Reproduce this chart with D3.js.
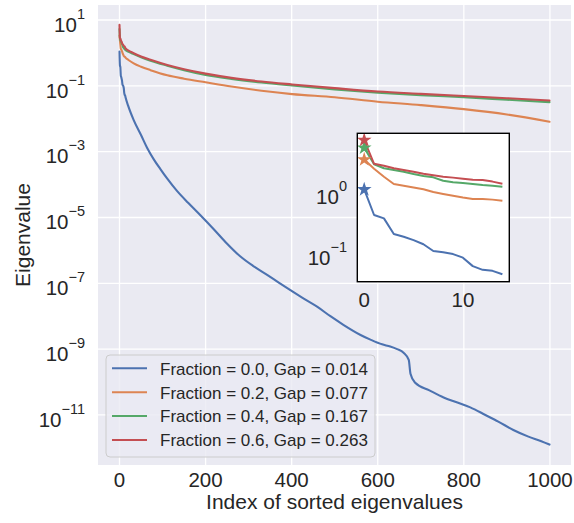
<!DOCTYPE html>
<html>
<head>
<meta charset="utf-8">
<script src="https://cdn.jsdelivr.net/npm/d3@7"></script>
<style>
  body { margin: 0; background: #fff; }
  text { font-family: "Liberation Sans", Arial, sans-serif; fill: #262626; }
</style>
</head>
<body>
<svg width="574" height="523"></svg>
<script>
// first 15 sorted eigenvalues (also shown in the inset)
var headIdx = [0, 1, 2, 3, 4, 5, 6, 7, 8, 9, 10, 11, 12, 13, 14];
var blueHead = [1.1, 0.42, 0.37, 0.205, 0.185, 0.163, 0.139, 0.108, 0.103, 0.096, 0.084, 0.061, 0.053, 0.051, 0.045];
var orangeHead = [3.4, 2.4, 1.78, 1.35, 1.27, 1.19, 1.11, 1.0, 0.93, 0.87, 0.81, 0.77, 0.77, 0.75, 0.72];
var greenHead = [5.3, 2.85, 2.45, 2.3, 2.15, 1.97, 1.83, 1.74, 1.53, 1.44, 1.40, 1.35, 1.30, 1.27, 1.22];
var redHead = [7.1, 2.9, 2.7, 2.45, 2.3, 2.15, 1.99, 1.88, 1.78, 1.72, 1.65, 1.59, 1.57, 1.48, 1.37];

// rest of the spectrum, read at sample indices
var blueTailIdx = [20, 33, 50, 64, 80, 95, 111, 134, 160, 188, 219, 250, 281, 310, 343, 370, 397, 430, 459, 490,
    521, 560, 583, 610, 629, 645, 660, 672, 676, 687, 720, 753, 785, 815, 850, 880, 915, 950, 980, 999];
var blueTail = [2.5e-2, 9.1e-3, 3.2e-3, 1.32e-3, 5.75e-4, 2.95e-4, 1.51e-4, 6.3e-5, 2.75e-5, 1.17e-5,
    4.4e-6, 1.6e-6, 6.5e-7, 3.4e-7, 1.8e-7, 1.05e-7, 6.2e-8, 3.3e-8, 1.95e-8, 1.0e-8,
    5.4e-9, 2.7e-9, 1.95e-9, 1.4e-9, 1.2e-9, 1.0e-9, 7.8e-10, 4.7e-10, 1.8e-10, 9.5e-11,
    5.6e-11, 3.4e-11, 2.4e-11, 1.7e-11, 1.0e-11, 6.3e-12, 3.5e-12, 2.2e-12, 1.6e-12, 1.26e-12];
var tailIdx = [20, 33, 50, 72, 111, 150, 200, 260, 330, 401, 500, 600, 700, 800, 900, 999];
var orangeTail = [0.62, 0.48, 0.38, 0.30, 0.21, 0.165, 0.128, 0.095, 0.071, 0.056, 0.045, 0.033, 0.026, 0.0196, 0.0135, 0.0081];
var greenTail = [1.1, 0.92, 0.74, 0.58, 0.41, 0.30, 0.215, 0.163, 0.126, 0.102, 0.078, 0.062, 0.052, 0.045, 0.038, 0.032];
var redTail = [1.2, 0.98, 0.78, 0.62, 0.43, 0.32, 0.235, 0.175, 0.135, 0.110, 0.085, 0.067, 0.057, 0.049, 0.042, 0.036];

var legendLabels = ["Fraction = 0.0, Gap = 0.014", "Fraction = 0.2, Gap = 0.077",
    "Fraction = 0.4, Gap = 0.167", "Fraction = 0.6, Gap = 0.263"];
var xTicks = [0, 200, 400, 600, 800, 1000];
var yTickExps = [1, -1, -3, -5, -7, -9, -11];
var insetXTicks = [0, 10];
var insetYTickExps = [0, -1];

(function(d3) {
    "use strict";

    var svg = d3.select("svg"),
        colors = ["#4C72B0", "#DD8452", "#55A868", "#C44E52"],
        pair = function(idx, vals) {
            return vals.map(function(v, i) { return [idx[i], v]; });
        },
        series = [
            { head: pair(headIdx, blueHead), tail: pair(blueTailIdx, blueTail) },
            { head: pair(headIdx, orangeHead), tail: pair(tailIdx, orangeTail) },
            { head: pair(headIdx, greenHead), tail: pair(tailIdx, greenTail) },
            { head: pair(headIdx, redHead), tail: pair(tailIdx, redTail) }
        ];

    var x = d3.scaleLinear().domain([-49.95, 1048.95]).range([98, 571]),
        y = d3.scaleLog().domain([Math.pow(10, -12.52), Math.pow(10, 1.456)]).range([465, 5]);

    // background + grid
    svg.append("rect").attr("x", 98).attr("y", 5).attr("width", 473).attr("height", 460).attr("fill", "#EAEAF2");
    svg.append("g").selectAll("line").data(xTicks).enter().append("line")
        .attr("x1", x).attr("x2", x).attr("y1", 5).attr("y2", 465)
        .attr("stroke", "#fff").attr("stroke-width", 1.3);
    svg.append("g").selectAll("line").data(yTickExps).enter().append("line")
        .attr("x1", 98).attr("x2", 571)
        .attr("y1", function(e) { return y(Math.pow(10, e)); })
        .attr("y2", function(e) { return y(Math.pow(10, e)); })
        .attr("stroke", "#fff").attr("stroke-width", 1.3);

    // tick labels
    svg.append("g").selectAll("text").data(xTicks).enter().append("text")
        .attr("x", x).attr("y", 486.5).attr("text-anchor", "middle")
        .attr("font-size", 20.5).text(function(d) { return d; });

    var powLabel = function(sel, xr, yFn) {
        var t = sel.append("text").attr("x", xr).attr("y", function(e) { return yFn(e) + 11.7; })
            .attr("text-anchor", "end").attr("font-size", 20.5);
        t.append("tspan").text("10");
        t.append("tspan").attr("dy", -13).attr("font-size", 14.5)
            .text(function(e) { return (e < 0 ? "\u2212" : "") + Math.abs(e); });
    };
    powLabel(svg.append("g").selectAll("g").data(yTickExps).enter(), 85,
        function(e) { return y(Math.pow(10, e)); });

    // axis labels
    svg.append("text").attr("x", 334.5).attr("y", 508.5).attr("text-anchor", "middle")
        .attr("font-size", 21).text("Index of sorted eigenvalues");
    svg.append("text").attr("transform", "translate(29.5,235) rotate(-90)").attr("text-anchor", "middle")
        .attr("font-size", 21).text("Eigenvalue");

    // main lines
    svg.append("clipPath").attr("id", "main-clip").append("rect")
        .attr("x", 98).attr("y", 5).attr("width", 473).attr("height", 460);
    var line = d3.line().curve(d3.curveMonotoneX)
        .x(function(d) { return x(d[0]); }).y(function(d) { return y(d[1]); });
    svg.append("g").attr("clip-path", "url(#main-clip)").selectAll("path").data(series).enter().append("path")
        .attr("d", function(s) { return line(s.head.concat(s.tail)); })
        .attr("fill", "none").attr("stroke", function(s, i) { return colors[i]; })
        .attr("stroke-width", 2.1).attr("stroke-linejoin", "round").attr("stroke-linecap", "round");

    // legend
    var lg = svg.append("g");
    lg.append("rect").attr("x", 106).attr("y", 355).attr("width", 269).attr("height", 102).attr("rx", 4)
        .attr("fill", "#EAEAF2").attr("fill-opacity", 0.8).attr("stroke", "#cccccc").attr("stroke-width", 1);
    var rows = lg.selectAll("g").data(legendLabels).enter().append("g")
        .attr("transform", function(d, i) { return "translate(0," + (368.3 + i * 23.9) + ")"; });
    rows.append("line").attr("x1", 112).attr("x2", 147)
        .attr("stroke", function(d, i) { return colors[i]; }).attr("stroke-width", 2);
    rows.append("text").attr("x", 160).attr("y", 6.3).attr("font-size", 17).text(function(d) { return d; });

    // inset
    var ix = d3.scaleLinear().domain([-0.7, 14.7]).range([357.3, 509.3]),
        iy = d3.scaleLog().domain([Math.pow(10, -1.47), Math.pow(10, 0.962)]).range([281.7, 133.3]),
        iline = d3.line().x(function(d) { return ix(d[0]); }).y(function(d) { return iy(d[1]); }),
        inset = svg.append("g");

    inset.append("rect").attr("x", 357.3).attr("y", 133.3).attr("width", 152).attr("height", 148.4).attr("fill", "#fff");
    inset.append("clipPath").attr("id", "inset-clip").append("rect")
        .attr("x", 357.3).attr("y", 133.3).attr("width", 152).attr("height", 148.4);
    var ig = inset.append("g").attr("clip-path", "url(#inset-clip)");
    ig.selectAll("path").data(series).enter().append("path")
        .attr("d", function(s) { return iline(s.head); })
        .attr("fill", "none").attr("stroke", function(s, i) { return colors[i]; })
        .attr("stroke-width", 2).attr("stroke-linejoin", "round");
    ig.selectAll(".star").data(series).enter().append("path").attr("class", "star")
        .attr("d", d3.symbol().type(d3.symbolStar).size(68))
        .attr("transform", function(s) { return "translate(" + ix(s.head[0][0]) + "," + iy(s.head[0][1]) + ")"; })
        .attr("fill", function(s, i) { return colors[i]; });
    inset.append("rect").attr("x", 357.3).attr("y", 133.3).attr("width", 152).attr("height", 148.4)
        .attr("fill", "none").attr("stroke", "#000").attr("stroke-width", 1.4);

    inset.append("g").selectAll("text").data(insetXTicks).enter().append("text")
        .attr("x", ix).attr("y", 307).attr("text-anchor", "middle")
        .attr("font-size", 20.5).text(function(d) { return d; });
    powLabel(inset.append("g").selectAll("g").data(insetYTickExps).enter(), 347,
        function(e) { return iy(Math.pow(10, e)); });

}(d3));
</script>
</body>
</html>
